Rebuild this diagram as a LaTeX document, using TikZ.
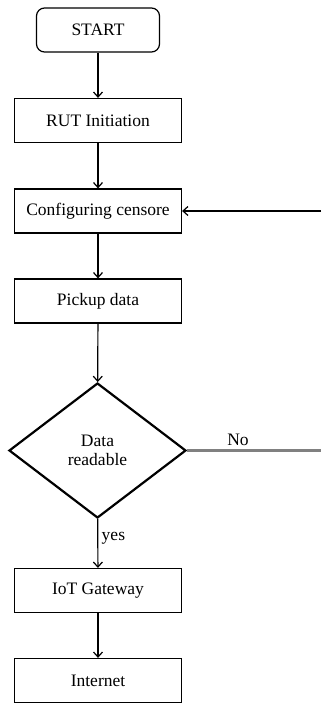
\documentclass[tikz,border=0pt]{standalone}
\usepackage{fontspec}
\setmainfont{Liberation Serif}
\usetikzlibrary{shapes.geometric,arrows.meta}

\begin{document}
\begin{tikzpicture}[x=1pt,y=-1pt,line width=1.2pt,
      every node/.style={font=\fontsize{17.5}{19}\selectfont},
      >={Straight Barb[length=5pt,width=9pt]},
      stepbox/.style={draw,minimum width=167pt,minimum height=44pt,inner sep=0pt},
      startbox/.style={draw,rounded corners=8pt,minimum width=123pt,minimum height=44pt},
      decide/.style={draw,diamond,line width=2.2pt,minimum width=177pt,minimum height=135pt,
        inner sep=0pt,align=center}]
    \useasboundingbox(0,0)rectangle(321,706);
    \node[startbox](start)at(98,30){START};
    \node[stepbox](rut)at(98,120.5){RUT Initiation};
    \node[stepbox](conf)at(98,211){Configuring censore};
    \node[stepbox](pick)at(98,301){Pickup data};
    \node[decide](dec)at(97.5,450.5){Data\\readable};
    \node[stepbox](gw)at(98,590.5){IoT Gateway};
    \node[stepbox](net)at(98,680.5){Internet};
    \coordinate(back)at(321,211);
    \coordinate(no)at(321,450.5);
    \draw[->](start)--(rut);
    \draw[->](rut)--(conf);
    \draw[->](conf)--(pick);
    \draw[->](pick)--(dec);
    \draw[->](dec)--node[right,pos=0.4]{yes}(gw);
    \draw[->](gw)--(net);
    \draw[gray,line width=2.4pt](dec.east)--node[above,pos=0.38,black]{No}(no);
    \draw[->](back)--(conf);
  \end{tikzpicture}
\end{document}
